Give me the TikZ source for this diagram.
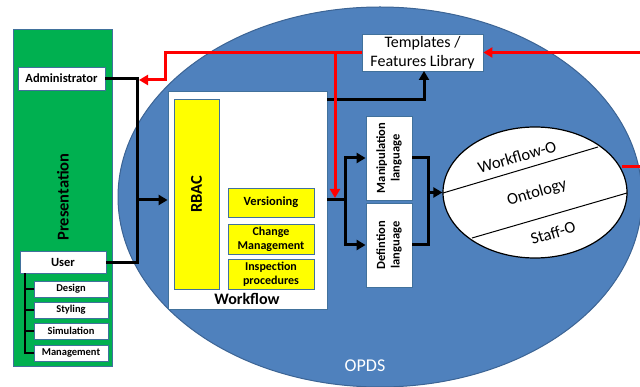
\documentclass[tikz,border=0pt]{standalone}
\usepackage{fontspec}
\setmainfont{Carlito}
\usetikzlibrary{arrows.meta,shapes.geometric}
\definecolor{opds}{HTML}{4F81BD}
\definecolor{opdsedge}{HTML}{3C6494}
\definecolor{grn}{HTML}{00B050}
\definecolor{boxedge}{HTML}{41719C}
\definecolor{yel}{HTML}{FFFF00}
\definecolor{redl}{HTML}{FF0000}
\tikzset{
  box/.style={draw=boxedge, line width=0.8pt, fill=white, inner sep=0pt, align=center},
  ybox/.style={box, fill=yel},
  blk/.style={draw=black, line width=3pt},
  rdl/.style={draw=redl, line width=3pt},
  tip/.style={-{Triangle[length=9pt,width=10pt]}},
}
\begin{document}
\begin{tikzpicture}[x=1pt,y=-1pt]
\useasboundingbox (0,0) rectangle (640,387);
% OPDS ellipse
\node[ellipse, fill=opds, draw=opdsedge, line width=1pt, minimum width=524pt, minimum height=380pt, inner sep=0pt] (opds) at (380,197) {};
\node[text=white, font=\fontsize{18}{18}\selectfont] (opdsl) at (365,366) {OPDS};
% Presentation column
\node[box, fill=grn, draw=boxedge, minimum width=99pt, minimum height=337pt] (pres) at (62.5,197.5) {};
\node[rotate=90, font=\bfseries\fontsize{16.5}{16.5}\selectfont] (presl) at (63,197) {Presentation};
\node[box, minimum width=87pt, minimum height=23pt, font=\bfseries\fontsize{12.5}{13}\selectfont] (admin) at (61.5,78.5) {Administrator};
\node[box, minimum width=86pt, minimum height=22pt, font=\bfseries\fontsize{12.5}{13}\selectfont] (user) at (63,262.5) {User};
\node[box, minimum width=74pt, minimum height=16pt, font=\bfseries\fontsize{10.5}{11}\selectfont] (design) at (71,289) {Design};
\node[box, minimum width=74pt, minimum height=16pt, font=\bfseries\fontsize{10.5}{11}\selectfont] (styling) at (71,310) {Styling};
\node[box, minimum width=74pt, minimum height=16pt, font=\bfseries\fontsize{10.5}{11}\selectfont] (simulation) at (71,331) {Simulation};
\node[box, minimum width=74pt, minimum height=16pt, font=\bfseries\fontsize{10.5}{11}\selectfont] (management) at (71,353) {Management};
\coordinate (tr) at (25,273.5);
\draw[line width=1.5pt] (tr) |- (management.west);
\draw[line width=1.5pt] (tr) |- (design.west);
\draw[line width=1.5pt] (tr) |- (styling.west);
\draw[line width=1.5pt] (tr) |- (simulation.west);
% Workflow
\node[box, minimum width=159pt, minimum height=218pt] (wf) at (247.5,200) {};
\node[ybox, minimum width=45pt, minimum height=190pt] (rbac) at (196.5,194) {};
\node[rotate=90, font=\bfseries\fontsize{16.5}{16.5}\selectfont] (rbacl) at (rbac) {RBAC};
\node[ybox, minimum width=86pt, minimum height=29pt, font=\bfseries\fontsize{12.5}{14}\selectfont] (vers) at (271,202.5) {Versioning};
\node[ybox, minimum width=86pt, minimum height=30pt, font=\bfseries\fontsize{12}{14}\selectfont] (chg) at (271,239) {Change\\Management};
\node[ybox, minimum width=86pt, minimum height=30pt, font=\bfseries\fontsize{12}{14}\selectfont] (insp) at (271,274) {Inspection\\procedures};
\node[font=\bfseries\fontsize{16}{16}\selectfont] (wfl) at (247,298.5) {Workflow};
% Templates
\node[box, minimum width=121pt, minimum height=37pt, font=\fontsize{16}{19}\selectfont] (tmpl) at (422.5,52.5) {Templates /\\Features Library};
% Languages
\node[box, minimum width=46pt, minimum height=84pt] (manip) at (389,158) {};
\node[rotate=90, align=center, font=\bfseries\fontsize{12.5}{14.5}\selectfont] (manipl) at (manip) {Manipulation\\language};
\node[box, minimum width=46pt, minimum height=84pt] (def) at (389,245) {};
\node[rotate=90, align=center, font=\bfseries\fontsize{12.5}{14.5}\selectfont] (defl) at (def) {Defintion\\language};
% Ontology
\node[ellipse, draw=black, line width=1.2pt, fill=white, minimum width=184pt, minimum height=131pt, inner sep=0pt] (ont) at (535,192.5) {};
\coordinate (u1) at (443,193);
\coordinate (u2) at (598,147);
\coordinate (l1) at (472,238);
\coordinate (l2) at (627,193);
\draw[line width=1pt] (u1) -- (u2);
\draw[line width=1pt] (l1) -- (l2);
\node[rotate=16.5, inner sep=0pt, font=\fontsize{16.5}{16.5}\selectfont] (wfo) at (517,157) {Workflow-O};
\node[rotate=16.5, inner sep=0pt, font=\fontsize{16.5}{16.5}\selectfont] (ontl) at (537,193) {Ontology};
\node[rotate=16.5, inner sep=0pt, font=\fontsize{16.5}{16.5}\selectfont] (stf) at (553,233) {Staff-O};
% black connectors
\coordinate (ab) at (137,78.5);
\coordinate (jl) at (137,200);
\draw[blk] (admin.east) -- (ab) |- (user.east);
\draw[blk, tip] (jl) -- (wf.west);
\coordinate (wfo1) at (327,100);
\coordinate (tb) at (424,71);
\draw[blk, tip] (wfo1) -| (tb);
\coordinate (wfr) at (327,200);
\coordinate (br) at (345,200);
\draw[blk] (wfr) -- (br);
\draw[blk, tip] (br) |- (manip.west);
\draw[blk, tip] (br) |- (def.west);
\coordinate (mj) at (428,192.5);
\draw[blk] (manip.east) -| (mj);
\draw[blk] (def.east) -| (mj);
\draw[blk, tip] (mj) -- (ont.west);
% red connectors
\coordinate (rin) at (640,52.5);
\coordinate (rc) at (165,52.5);
\coordinate (rd) at (165,80);
\coordinate (ra) at (139,80);
\draw[rdl, tip] (rin) -- (tmpl.east);
\draw[rdl, tip] (tmpl.west) -- (rc) -- (rd) -- (ra);
\coordinate (rv) at (335,52.5);
\coordinate (rvd) at (335,198);
\draw[rdl, tip] (rv) -- (rvd);
\coordinate (ro1) at (622,167);
\coordinate (ro2) at (640,167);
\draw[rdl] (ro1) -- (ro2);
\end{tikzpicture}
\end{document}
